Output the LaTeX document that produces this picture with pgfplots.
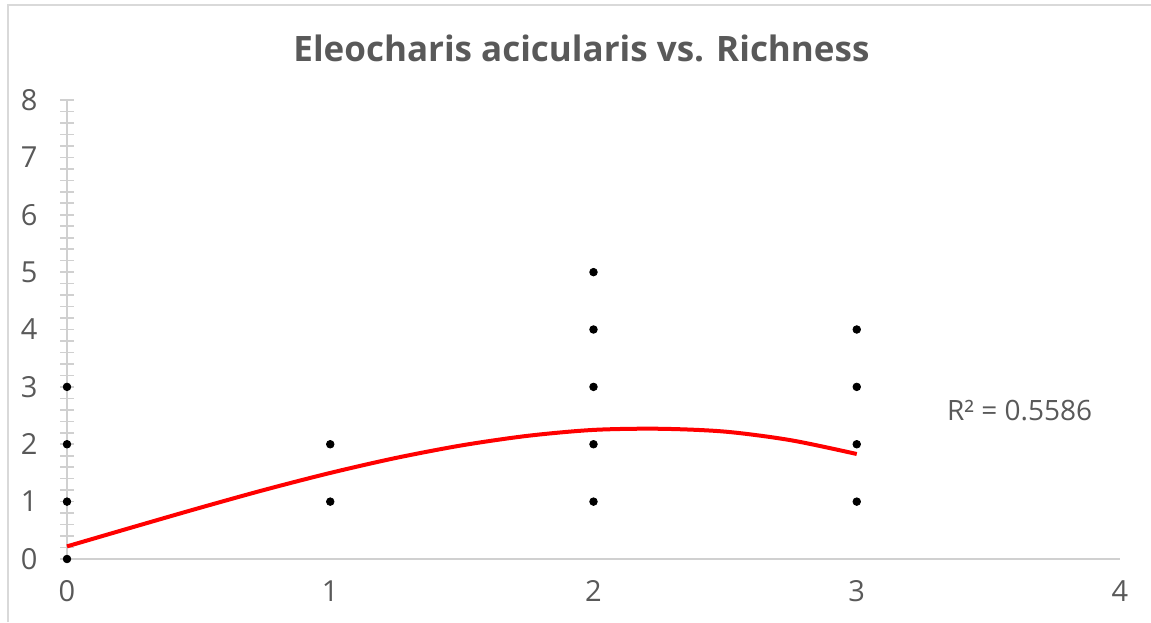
\documentclass[border=0pt]{standalone}
\usepackage{pgfplots}
\pgfplotsset{compat=1.18}
\usepackage{fontspec}
\setmainfont{Open Sans}
\definecolor{txtgray}{HTML}{595959}
\definecolor{axgray}{HTML}{D0D0D0}
\definecolor{framegray}{HTML}{D9D9D9}
\begin{document}
\begin{tikzpicture}
\useasboundingbox (0,0) rectangle (575.5pt,311pt);
% chart frame (left and top edges)
\draw[framegray, line width=1pt] (4pt,0) -- (4pt,308.5pt) -- (580pt,308.5pt);
% title
\node[anchor=base, text=txtgray, font=\fontsize{17.5}{20}\selectfont\bfseries] at (290.75pt,280pt)
  {Eleocharis acicularis vs. Richness};
\begin{axis}[
  at={(33.5pt,31.5pt)}, anchor=south west,
  scale only axis, width=526.5pt, height=229.5pt,
  xmin=0, xmax=4, ymin=0, ymax=8,
  xtick={0,1,2,3,4}, ytick={0,1,...,8},
  minor y tick num=4,
  axis x line=bottom, axis y line=left,
  axis line style={axgray, line width=1pt, -},
  xtick style={draw=none},
  ytick style={axgray, line width=0.8pt},
  minor y tick style={axgray, line width=0.8pt},
  tick align=center,
  major tick length=6.5pt, minor tick length=6.5pt,
  tick label style={text=txtgray, font=\fontsize{14.5}{16}\selectfont},
  /pgf/number format/assume math mode=true,
  yticklabel style={xshift=-8pt},
  xticklabel style={yshift=-4pt},
  clip=false,
]
% observations
\addplot[only marks, mark=*, mark size=1.9pt, black] coordinates {
  (0,0) (0,1) (0,2) (0,3)
  (1,1) (1,2)
  (2,1) (2,2) (2,3) (2,4) (2,5)
  (3,1) (3,2) (3,3) (3,4)
};
% polynomial trendline
\addplot[red, line width=2pt, smooth] coordinates {
  (0,0.22) (0.25,0.555) (0.5,0.886) (0.75,1.205) (1,1.50)
  (1.25,1.762) (1.5,1.981) (1.75,2.147) (2,2.25) (2.25,2.27)
  (2.5,2.22) (2.75,2.07) (3,1.83)
};
\end{axis}
\node[anchor=west, text=txtgray, font=\fontsize{14}{16}\selectfont] at (470pt,105.5pt) {R² = 0.5586};
\end{tikzpicture}
\end{document}
